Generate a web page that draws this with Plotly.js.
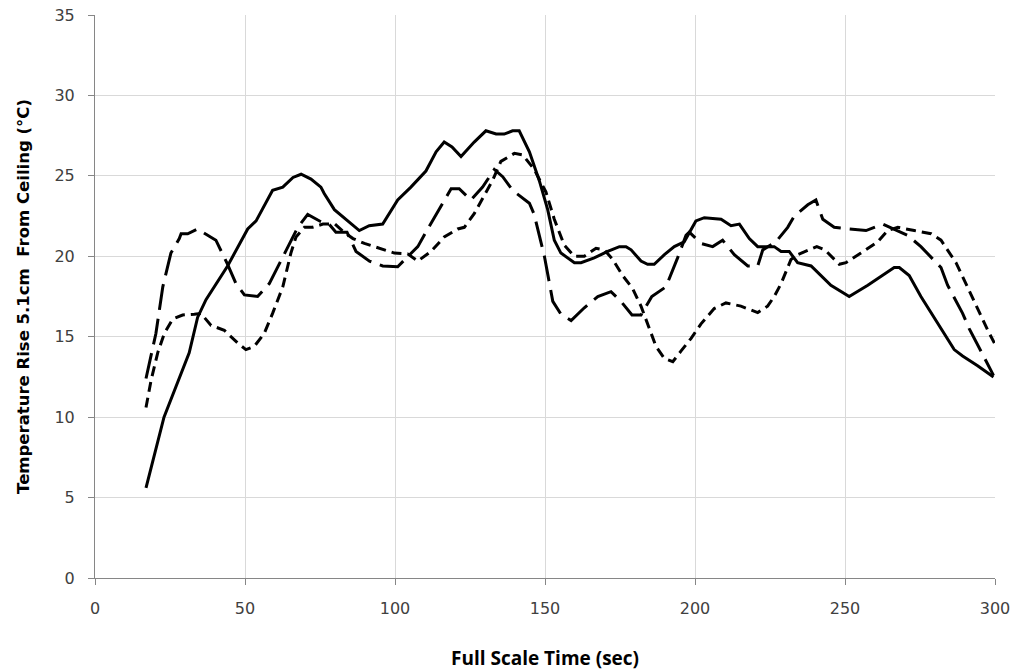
<!DOCTYPE html>
<html>
<head>
<meta charset="utf-8">
<script src="https://cdn.plot.ly/plotly-3.0.1.min.js"></script>
<style>html,body{margin:0;padding:0;background:#fff;}#chart{width:1017px;height:672px;}</style>
</head>
<body>
<div id="chart"></div>
<script>
// Solid line series
const timeSolid = [17, 23, 31.4, 34.2, 37, 44.2, 50.9, 53.7, 59.2, 62.6, 66, 68.7, 72, 75.3, 76.4, 79.8, 88.1, 91.4, 95.9, 100.9, 105.3, 110.3, 113.7, 116.4, 119, 122, 126.4, 130.3, 133.7, 136.4, 139.2, 141.4, 144.8, 148.1, 150.9, 153.1, 155.3, 159.8, 162, 166.4, 170.9, 174.8, 177, 178.7, 182, 184.2, 186.4, 189.8, 193.1, 196.4, 200.3, 203.1, 208.7, 212, 214.8, 218.1, 220.9, 226.4, 228.7, 231.4, 234.2, 238.7, 245.3, 251.4, 257.6, 266.4, 268.1, 271.4, 275.3, 280.9, 286.4, 289.2, 294.2, 299.5];
const tempSolid = [5.6, 10.0, 14.0, 16.2, 17.3, 19.4, 21.7, 22.2, 24.1, 24.3, 24.9, 25.1, 24.8, 24.3, 23.9, 22.9, 21.6, 21.9, 22.0, 23.5, 24.3, 25.3, 26.5, 27.1, 26.8, 26.2, 27.1, 27.8, 27.6, 27.6, 27.8, 27.8, 26.5, 24.7, 22.9, 21.0, 20.2, 19.6, 19.6, 19.9, 20.3, 20.6, 20.6, 20.4, 19.7, 19.5, 19.5, 20.1, 20.6, 20.9, 22.2, 22.4, 22.3, 21.9, 22.0, 21.1, 20.6, 20.6, 20.3, 20.3, 19.6, 19.4, 18.2, 17.5, 18.2, 19.3, 19.3, 18.8, 17.5, 15.8, 14.2, 13.8, 13.2, 12.5];

// Long-dash series
const timeLongDash = [17, 20.3, 22.6, 25.3, 28.1, 28.7, 30.9, 34.2, 35.9, 40.3, 44.2, 47, 49.8, 54.2, 58.1, 63.1, 67.6, 70.9, 75.3, 78, 80.3, 84, 87, 91.5, 95.9, 100.9, 107.6, 110.3, 115.3, 118.7, 121.4, 125.3, 129.2, 133.1, 135.9, 139.2, 144.8, 146.4, 149.8, 152.6, 155.3, 158.7, 163.1, 167.6, 172, 175.3, 179, 182, 185.6, 190.3, 194.2, 197, 198.1, 202, 205.9, 209.2, 213.1, 217.6, 220.9, 222.6, 227, 230.9, 233.1, 237.6, 240.3, 242.6, 246.4, 257, 262.6, 270.9, 275.3, 282, 284.2, 289.2, 291.4, 299.5];
const tempLongDash = [12.4, 15.2, 18.1, 20.2, 21.1, 21.4, 21.4, 21.7, 21.5, 21.0, 19.5, 18.3, 17.6, 17.5, 18.3, 20.1, 21.8, 22.6, 22.15, 22.0, 21.5, 21.5, 20.3, 19.7, 19.4, 19.35, 20.6, 21.5, 23.1, 24.2, 24.2, 23.5, 24.3, 25.4, 24.95, 24.1, 23.3, 22.6, 20.0, 17.2, 16.4, 16.0, 16.8, 17.5, 17.8, 17.2, 16.35, 16.35, 17.5, 18.1, 19.9, 21.3, 21.5, 20.8, 20.6, 21.0, 20.1, 19.4, 19.4, 20.4, 20.9, 21.8, 22.5, 23.2, 23.5, 22.3, 21.8, 21.6, 22.0, 21.3, 20.6, 19.3, 18.2, 16.45, 15.5, 12.6];

// Short-dash series
const timeShortDash = [17, 18.7, 20.9, 23.1, 25.9, 29.2, 33.1, 35.3, 38.7, 43.1, 47.6, 50.3, 53.1, 56.4, 59.2, 62.6, 65.3, 67, 69.8, 72.5, 76, 80, 83, 86, 89.8, 94.8, 99.8, 104.2, 107.6, 112, 116.4, 120.9, 123.1, 126.4, 129.8, 132.6, 135.3, 139.8, 142.6, 146.4, 150.3, 153.1, 156.4, 159.8, 163.1, 167, 169.8, 172.6, 175.9, 179.2, 182, 184.2, 187, 189.8, 192.6, 195.3, 198.7, 202, 206.4, 210.3, 215.3, 220.9, 224.2, 226.4, 228.7, 232, 234.2, 240.6, 243.3, 248.1, 250.3, 255.3, 260.9, 264.2, 267.6, 273.1, 278.7, 282, 284.2, 287, 290.3, 294.2, 297.6, 299.8];
const tempShortDash = [10.6, 12.3, 14.0, 15.2, 16.1, 16.35, 16.4, 16.45, 15.7, 15.4, 14.6, 14.2, 14.4, 15.2, 16.45, 18.1, 20.2, 21.2, 21.8, 21.8, 22.0, 22.0, 21.5, 21.1, 20.8, 20.5, 20.2, 20.15, 19.7, 20.3, 21.2, 21.7, 21.8, 22.65, 23.8, 24.75, 25.9, 26.4, 26.3, 25.4, 24.0, 22.3, 20.7, 20.0, 20.0, 20.5, 20.4, 19.8, 18.8, 18.0, 16.9, 15.8, 14.4, 13.65, 13.45, 14.1, 14.9, 15.8, 16.75, 17.1, 16.9, 16.5, 16.9, 17.5, 18.3, 19.8, 20.1, 20.6, 20.4, 19.5, 19.6, 20.2, 20.9, 21.6, 21.8, 21.6, 21.4, 21.0, 20.4, 19.6, 18.3, 16.7, 15.4, 14.6];

const xTickVals = [0, 50, 100, 150, 200, 250, 300];
const yTickVals = [0, 5, 10, 15, 20, 25, 30, 35];

const lineBase = {color: '#000000', width: 3};
const traces = [
  {x: timeSolid, y: tempSolid, type: 'scatter', mode: 'lines', line: Object.assign({}, lineBase, {dash: 'solid'}), name: 'Solid'},
  {x: timeLongDash, y: tempLongDash, type: 'scatter', mode: 'lines', line: Object.assign({}, lineBase, {dash: '26px,9px'}), name: 'Long dash'},
  {x: timeShortDash, y: tempShortDash, type: 'scatter', mode: 'lines', line: Object.assign({}, lineBase, {dash: '10px,6px'}), name: 'Short dash'}
];

const tickFont = {family: 'DejaVu Sans', size: 16, color: '#404040'};

const layout = {
  width: 1017, height: 672,
  margin: {l: 95, r: 22, t: 15, b: 94},
  paper_bgcolor: '#ffffff', plot_bgcolor: '#ffffff',
  showlegend: false,
  xaxis: {
    range: [0, 300], tickvals: xTickVals, ticktext: xTickVals.map(String),
    showgrid: true, gridcolor: '#d9d9d9', gridwidth: 1,
    zeroline: false, showline: true, linecolor: '#868686', linewidth: 1,
    ticks: 'outside', ticklen: 6, tickcolor: '#868686',
    tickfont: tickFont, ticklabelstandoff: 10,
    title: {text: 'Full Scale Time (sec)', font: {family: 'Open Sans', size: 19, color: '#000000', weight: 'bold'}, standoff: 34}
  },
  yaxis: {
    range: [0, 35], tickvals: yTickVals, ticktext: yTickVals.map(String),
    showgrid: true, gridcolor: '#d9d9d9', gridwidth: 1,
    zeroline: false, showline: true, linecolor: '#868686', linewidth: 1,
    ticks: 'outside', ticklen: 6, tickcolor: '#868686',
    tickfont: tickFont, ticklabelstandoff: 10,
    title: {text: 'Temperature Rise 5.1cm\u00a0 From Ceiling (°C)', font: {family: 'DejaVu Sans', size: 16.5, color: '#000000', weight: 'bold'}, standoff: 20}
  }
};

Plotly.newPlot('chart', traces, layout, {staticPlot: true, displayModeBar: false});
</script>
</body>
</html>
